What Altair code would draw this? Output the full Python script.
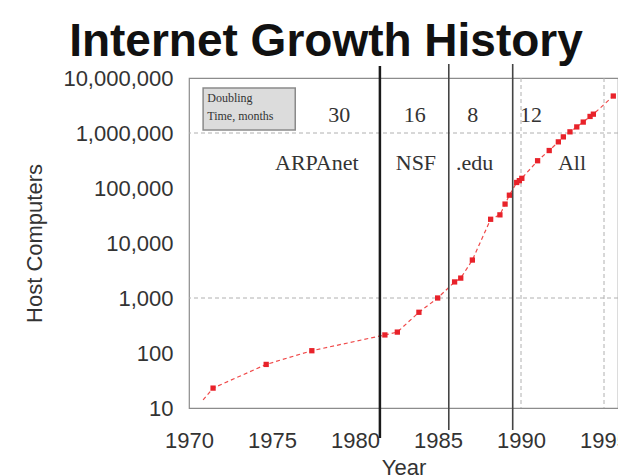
import altair as alt
import pandas as pd

# ---- data ----
years = [1970.85, 1971.45, 1974.65, 1977.4, 1981.8, 1982.55, 1983.85, 1984.98,
         1986.0, 1986.37, 1987.07, 1988.17, 1988.73, 1989.04, 1989.3, 1989.74,
         1989.9, 1990.05, 1991.0, 1991.7, 1992.25, 1992.55, 1992.95, 1993.36,
         1993.75, 1994.16, 1994.36, 1995.56]
hosts = [14, 23, 62, 110, 213, 240, 550, 1000,
         1960, 2300, 4900, 27000, 32500, 51000, 74000, 126000,
         136000, 150000, 313000, 480000, 690000, 850000, 1050000, 1290000,
         1580000, 2000000, 2200000, 4700000]
marker = [False] + [True] * 27

era_main = [1981.5]
era_other = [1985.65, 1989.5]
grid_years = [1990, 1995]
grid_hosts = [1000, 1000000]

doubling_labels = ["30", "16", "8", "12"]
doubling_x = [1979.05, 1983.6, 1987.1, 1990.6]
doubling_y = [2.1e6, 2.1e6, 2.1e6, 2.1e6]

era_labels = ["ARPAnet", "NSF", ".edu", "All"]
era_label_x = [1977.7, 1983.67, 1987.2, 1993.07]
era_label_y = [2.85e5, 2.85e5, 2.85e5, 2.85e5]

box_x = [1970.85, 1976.4]
box_y = [6.6e6, 1.13e6]
box_text = ["Doubling", "Time, months"]
box_text_x = [1971.1, 1971.1]
box_text_y = [4.3e6, 2.05e6]

title_text = ["Internet Growth History"]

x_ticks = [1970, 1975, 1980, 1985, 1990, 1995]
y_ticks = [10, 100, 1000, 10000, 100000, 1000000, 10000000]

# ---- tables ----
df = pd.DataFrame({"year": years, "hosts": hosts, "marker": marker})
df_grid_x = pd.DataFrame({"year": grid_years})
df_grid_y = pd.DataFrame({"hosts": grid_hosts})
df_era_main = pd.DataFrame({"year": era_main})
df_era_other = pd.DataFrame({"year": era_other})
df_dbl = pd.DataFrame({"t": doubling_labels, "year": doubling_x, "hosts": doubling_y})
df_lab = pd.DataFrame({"t": era_labels, "year": era_label_x, "hosts": era_label_y})
df_box = pd.DataFrame({"year": [box_x[0]], "x2": [box_x[1]], "hosts": [box_y[0]], "y2": [box_y[1]]})
df_box_t = pd.DataFrame({"t": box_text, "year": box_text_x, "hosts": box_text_y})
df_title = pd.DataFrame({"t": title_text})

W = 429
H = 330
xs = alt.Scale(domain=[1970, 1970 + W / 16.6], nice=False, zero=False)
ys = alt.Scale(type="log", domain=[10, 10000000], nice=False)

FONT = "Liberation Sans"
SERIF = "Liberation Serif"

x_axis = alt.Axis(values=x_ticks, format="d", title="Year", grid=False, domain=False,
                  ticks=False, labelPadding=22, labelFontSize=22, labelFont=FONT,
                  labelColor="#333", titleFontSize=22, titleFont=FONT,
                  titleFontWeight="normal", titleColor="#333", titlePadding=6,
                  labelFlush=False, labelOverlap=False)
y_axis = alt.Axis(values=y_ticks, format=",d", title="Host Computers", grid=False,
                  domain=False, ticks=False, labelPadding=16, labelFontSize=22,
                  labelFont=FONT, labelColor="#333", titleFontSize=22, titleFont=FONT,
                  titleFontWeight="normal", titleColor="#333", titlePadding=16,
                  labelOverlap=False)


def X(field="year:Q"):
    return alt.X(field, scale=xs, axis=x_axis)


def Y(field="hosts:Q"):
    return alt.Y(field, scale=ys, axis=y_axis)


gx = alt.Chart(df_grid_x).mark_rule(color="#b0b0b0", strokeDash=[4, 3], strokeWidth=1).encode(
    x=X())
gy = alt.Chart(df_grid_y).mark_rule(color="#b0b0b0", strokeDash=[4, 3], strokeWidth=1).encode(
    y=Y())

box = alt.Chart(df_box).mark_rect(fill="#dcdcdc", stroke="#8a8a8a", strokeWidth=1.5).encode(
    x=X(), x2="x2:Q", y=Y(), y2="y2:Q")
box_t = alt.Chart(df_box_t).mark_text(font=SERIF, fontSize=12, align="left",
                                      baseline="middle", color="#333").encode(
    x=X(), y=Y(), text="t:N")

line = alt.Chart(df).mark_line(color="#f04a4a", strokeWidth=1.2, strokeDash=[4, 3]).encode(
    x=X(), y=Y(), order="year:Q")
pts = alt.Chart(df).transform_filter("datum.marker").mark_point(
    shape="square", filled=True, size=28, color="#e8222a", opacity=1).encode(
    x=X(), y=Y())

era1 = alt.Chart(df_era_main).mark_rule(color="#1a1a1a", strokeWidth=2.5).encode(
    x=X(), y=alt.value(-12), y2=alt.value(360))
era2 = alt.Chart(df_era_other).mark_rule(color="#444444", strokeWidth=1.6).encode(
    x=X(), y=alt.value(-14), y2=alt.value(352))

dbl = alt.Chart(df_dbl).mark_text(font=SERIF, fontSize=22, color="#333").encode(
    x=X(), y=Y(), text="t:N")
lab = alt.Chart(df_lab).mark_text(font=SERIF, fontSize=22, color="#333").encode(
    x=X(), y=Y(), text="t:N")

title = alt.Chart(df_title).mark_text(font=FONT, fontSize=46, fontWeight="bold",
                                      color="#111", align="center",
                                      baseline="alphabetic").encode(
    text="t:N", x=alt.value(137), y=alt.value(-22))

chart = alt.layer(gx, gy, box, box_t, line, pts, era1, era2, dbl, lab, title).properties(
    width=W, height=H,
    autosize=alt.AutoSizeParams(type="none"),
    padding={"left": 181, "top": 70, "right": 0, "bottom": 68},
    background="white",
).configure_view(stroke="#8c8c8c", strokeWidth=1.2)

chart.save("out.html", embed_options={"renderer": "svg", "actions": False})
